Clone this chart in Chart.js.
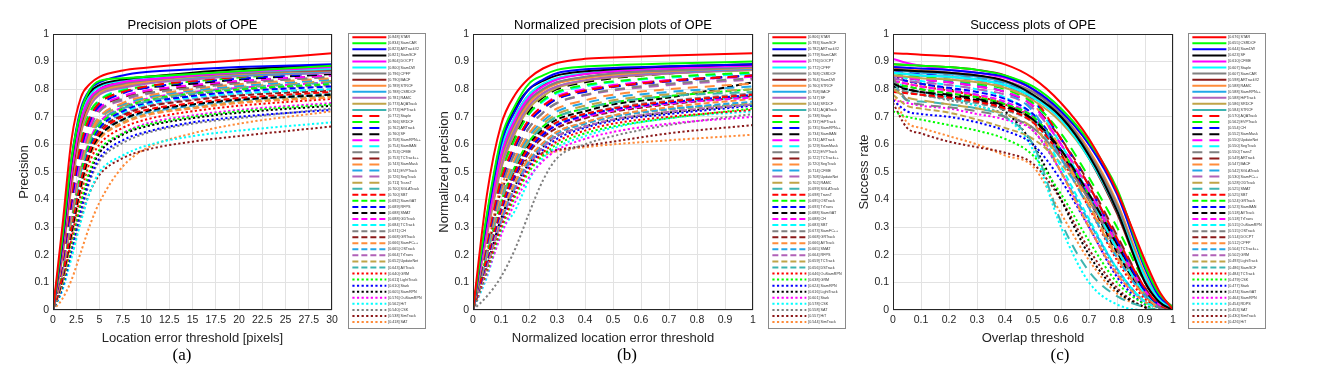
<!DOCTYPE html>
<html>
<head>
<meta charset="utf-8">
<script src="https://cdn.jsdelivr.net/npm/chart.js@4.4.1/dist/chart.umd.min.js"></script>
<style>
  body { margin:0; background:#fff; }
  #wrap { position:relative; width:1335px; height:381px; overflow:hidden; background:#fff; }
  canvas { position:absolute; }
  .lgbox { position:absolute; top:33px; width:76px; height:294px; border:1px solid #8a8a8a; background:#fff; }
  .cap { position:absolute; top:345px; width:60px; text-align:center; font:17px 'Liberation Serif', serif; line-height:20px; color:#000; }
</style>
</head>
<body>
<div id="wrap">
  <canvas id="plotA" width="345" height="381" style="left:0;top:0"></canvas>
  <canvas id="plotB" width="345" height="381" style="left:420px;top:0"></canvas>
  <canvas id="plotC" width="345" height="381" style="left:840px;top:0"></canvas>
  <div class="lgbox" style="left:348px"></div>
  <div class="lgbox" style="left:768px"></div>
  <div class="lgbox" style="left:1188px"></div>
  <canvas id="legA" width="200" height="300" style="left:350.3px;top:32.5px"></canvas>
  <canvas id="legB" width="200" height="300" style="left:770px;top:32.5px"></canvas>
  <canvas id="legC" width="200" height="300" style="left:1190px;top:32.5px"></canvas>
  <div class="cap" style="left:152px">(a)</div>
  <div class="cap" style="left:597px">(b)</div>
  <div class="cap" style="left:1030px">(c)</div>
</div>
<script>
/* ---- thresholds (x values) ---- */
const xA = [0, 1, 2, 3, 4, 5, 7.5, 10, 15, 20, 30];
const xB = [0, .05, .1, .15, .2, .25, .3, .4, .5, .7, 1];
const xC = [0, .05, .1, .2, .3, .4, .5, .6, .7, .8, .9, .95, 1];

/* ---- legend entries ---- */
const namesA = ['STAR','SiamCAR','ARTrackV2','SiamSCF','DOCPT','SiamDW','CPFP','BACF','STRCF','CSRDCF','RAMC','AQATrack','HiPTrack',
  'Staple','SRDCF','ARTrack','SF','SiamRPN++','SiamBAN','CFME','TCTrack++','SiamMask','EVPTrack','SegTrack','TransT','SGLATrack',
  'SBT','SiamGAT','RFPS','SMAT','GDTrack','TCTrack','CH','GRTrack','SiamFC++','OSTrack','TrTrans','UpdateNet','AVTrack',
  'GRM','LightTrack','Stark','SiamRPN','OuSiamRPN','HiT','CSK','SimTrack','SAT'];
const scoresA = [0.848,0.834,0.823,0.821,0.804,0.800,0.796,0.790,0.789,0.788,0.781,0.773,0.773,
  0.772,0.766,0.762,0.760,0.758,0.754,0.753,0.753,0.743,0.741,0.726,0.711,0.700,
  0.700,0.692,0.689,0.688,0.688,0.684,0.671,0.668,0.666,0.665,0.664,0.652,0.643,
  0.640,0.611,0.610,0.605,0.576,0.562,0.540,0.538,0.418];

const namesB = ['STAR','SiamSCF','ARTrackV2','SiamCAR','DOCPT','CPFP','CSRDCF','SiamDW','STRCF','BACF','SF','SRDCF','AQATrack',
  'Staple','HiPTrack','SiamRPN++','SiamBAN','ARTrack','SiamMask','EVPTrack','TCTrack++','SegTrack','CFME','UpdateNet','RAMC','SGLATrack',
  'TransT','OSTrack','TrTrans','SiamGAT','CH','SBT','SiamFC++','GRTrack','AVTrack','SMAT','RFPS','TCTrack','DSTrack',
  'OuSiamRPN','GRM','SiamRPN','LightTrack','Stark','CSK','SAT','HiT','SimTrack'];
const scoresB = [0.806,0.793,0.782,0.779,0.776,0.772,0.768,0.764,0.760,0.758,0.747,0.744,0.741,
  0.738,0.737,0.735,0.734,0.731,0.729,0.722,0.722,0.720,0.714,0.708,0.702,0.699,
  0.698,0.695,0.693,0.688,0.688,0.683,0.673,0.668,0.666,0.665,0.664,0.659,0.656,
  0.646,0.638,0.624,0.616,0.601,0.578,0.558,0.557,0.544];

const namesC = ['STAR','CSRDCF','SiamDW','SF','CFME','Staple','SiamCAR','ARTrackV2','RAMC','SiamRPN++','HiPTrack','SRDCF','STRCF',
  'AQATrack','EVPTrack','CH','SiamMask','UpdateNet','SegTrack','TransT','ARTrack','BACF','SGLATrack','SiamFC++','ODTrack','SMAT',
  'SBT','GRTrack','SiamBAN','AVTrack','TrTrans','OuSiamRPN','OSTrack','DOCPT','CPFP','TCTrack++','GRM','LightTrack','SiamSCF',
  'TCTrack','CSK','Stark','SiamGAT','SiamRPN','RDPS','SAT','SimTrack','HiT'];
const scoresC = [0.676,0.655,0.644,0.623,0.610,0.607,0.607,0.598,0.588,0.588,0.588,0.586,0.584,
  0.570,0.562,0.554,0.552,0.550,0.550,0.550,0.549,0.547,0.542,0.530,0.528,0.525,
  0.525,0.524,0.523,0.518,0.518,0.515,0.515,0.514,0.512,0.504,0.502,0.493,0.486,
  0.484,0.479,0.477,0.474,0.464,0.454,0.453,0.430,0.426];

/* ---- curves, precision plot (a) ---- */
const curvesA = [
  [0,.3,.62,.77,.82,.845,.868,.878,.893,.905,.93],
  [0,.26,.55,.72,.8,.83,.84,.845,.855,.865,.885],
  [0,.25,.55,.73,.8,.825,.85,.862,.872,.88,.89],
  [0,.24,.54,.72,.79,.815,.835,.845,.86,.872,.888],
  [0,.22,.5,.69,.77,.8,.825,.835,.85,.862,.88],
  [0,.23,.52,.7,.78,.81,.83,.84,.852,.862,.875],
  [0,.22,.5,.68,.76,.795,.82,.832,.848,.858,.872],
  [0,.21,.48,.67,.76,.8,.825,.835,.85,.86,.87],
  [0,.2,.47,.66,.75,.79,.815,.828,.845,.855,.868],
  [0,.22,.5,.68,.76,.8,.82,.83,.842,.852,.865],
  [0,.2,.46,.65,.74,.78,.805,.82,.835,.848,.86],
  [0,.19,.45,.64,.74,.785,.81,.825,.84,.85,.862],
  [0,.21,.48,.66,.75,.79,.81,.822,.838,.848,.86],
  [0,.18,.42,.6,.7,.75,.79,.81,.83,.845,.87],
  [0,.19,.44,.62,.72,.76,.795,.81,.828,.842,.865],
  [0,.17,.4,.58,.69,.74,.785,.805,.825,.838,.86],
  [0,.17,.4,.6,.7,.75,.79,.805,.82,.835,.855],
  [0,.16,.38,.56,.67,.73,.775,.795,.815,.83,.85],
  [0,.18,.42,.6,.71,.76,.8,.82,.838,.85,.862],
  [0,.15,.36,.54,.66,.72,.765,.785,.805,.822,.845],
  [0,.16,.38,.57,.68,.73,.77,.79,.81,.828,.85],
  [0,.14,.35,.53,.64,.7,.75,.775,.8,.818,.84],
  [0,.15,.36,.54,.65,.7,.745,.77,.795,.812,.835],
  [0,.16,.38,.56,.67,.72,.76,.782,.805,.822,.845],
  [0,.14,.34,.52,.63,.69,.74,.765,.79,.808,.83],
  [0,.13,.33,.5,.62,.68,.73,.755,.785,.805,.825],
  [0,.12,.3,.47,.58,.64,.7,.725,.75,.768,.79],
  [0,.13,.32,.5,.61,.67,.73,.76,.785,.8,.82],
  [0,.12,.3,.48,.6,.66,.72,.75,.775,.792,.81],
  [0,.11,.28,.45,.57,.63,.69,.72,.745,.762,.78],
  [0,.13,.33,.51,.62,.68,.735,.765,.79,.805,.825],
  [0,.12,.31,.49,.6,.66,.715,.745,.77,.785,.8],
  [0,.13,.32,.5,.61,.67,.725,.755,.78,.797,.815],
  [0,.12,.3,.47,.59,.65,.705,.735,.76,.777,.795],
  [0,.1,.27,.44,.56,.62,.675,.705,.73,.75,.77],
  [0,.11,.29,.46,.58,.64,.69,.715,.74,.76,.78],
  [0,.12,.31,.48,.6,.66,.71,.74,.765,.782,.8],
  [0,.1,.27,.44,.56,.62,.68,.71,.735,.755,.775],
  [0,.11,.28,.45,.57,.63,.69,.72,.745,.765,.785],
  [0,.1,.26,.42,.54,.6,.66,.69,.72,.74,.765],
  [0,.09,.24,.39,.51,.58,.64,.67,.7,.72,.745],
  [0,.08,.22,.36,.48,.55,.615,.645,.68,.7,.725],
  [0,.09,.23,.38,.5,.57,.635,.665,.695,.715,.74],
  [0,.09,.23,.38,.5,.57,.64,.675,.705,.725,.75],
  [0,.07,.19,.32,.43,.5,.56,.595,.63,.65,.68],
  [0,.08,.21,.35,.47,.54,.605,.64,.675,.695,.73],
  [0,.08,.2,.33,.43,.49,.55,.58,.61,.63,.665],
  [0,.04,.11,.21,.31,.39,.52,.585,.64,.675,.72]
];

/* ---- curves, normalized precision plot (b) ---- */
const curvesB = [
  [0,.42,.67,.78,.84,.875,.895,.91,.915,.922,.93],
  [0,.35,.62,.74,.82,.85,.87,.882,.887,.893,.9],
  [0,.33,.6,.72,.8,.835,.858,.872,.877,.883,.89],
  [0,.34,.61,.73,.8,.83,.85,.865,.872,.882,.89],
  [0,.3,.56,.69,.77,.81,.835,.855,.865,.875,.885],
  [0,.32,.58,.7,.78,.82,.84,.858,.866,.876,.885],
  [0,.3,.55,.68,.76,.8,.825,.845,.857,.868,.88],
  [0,.31,.57,.7,.78,.815,.838,.855,.863,.873,.885],
  [0,.29,.54,.67,.75,.795,.82,.84,.852,.865,.878],
  [0,.3,.55,.68,.76,.8,.825,.843,.853,.864,.875],
  [0,.28,.52,.65,.74,.785,.81,.832,.845,.858,.872],
  [0,.27,.51,.64,.73,.775,.805,.83,.843,.857,.87],
  [0,.28,.52,.66,.74,.785,.81,.832,.845,.858,.87],
  [0,.25,.47,.6,.69,.74,.77,.795,.81,.83,.85],
  [0,.26,.49,.62,.71,.76,.79,.815,.828,.845,.86],
  [0,.24,.46,.59,.68,.73,.765,.79,.808,.828,.85],
  [0,.26,.5,.63,.72,.77,.8,.825,.84,.857,.875],
  [0,.25,.47,.6,.69,.74,.775,.8,.815,.832,.845],
  [0,.27,.5,.62,.71,.755,.785,.81,.825,.842,.855],
  [0,.23,.44,.57,.66,.715,.75,.78,.798,.82,.84],
  [0,.24,.46,.59,.68,.73,.765,.795,.812,.832,.85],
  [0,.22,.42,.55,.64,.695,.73,.76,.78,.8,.82],
  [0,.21,.41,.54,.63,.685,.72,.75,.77,.79,.81],
  [0,.23,.44,.57,.66,.715,.75,.778,.795,.815,.835],
  [0,.2,.4,.53,.62,.675,.71,.74,.76,.782,.8],
  [0,.2,.39,.52,.61,.665,.7,.73,.752,.775,.79],
  [0,.19,.37,.5,.59,.645,.68,.71,.73,.755,.78],
  [0,.2,.39,.52,.61,.665,.7,.73,.752,.775,.8],
  [0,.18,.36,.49,.58,.635,.67,.705,.727,.752,.78],
  [0,.19,.38,.51,.6,.655,.69,.72,.745,.77,.825],
  [0,.18,.36,.49,.58,.635,.67,.7,.722,.748,.77],
  [0,.2,.38,.5,.59,.64,.675,.705,.725,.75,.775],
  [0,.19,.37,.5,.59,.645,.68,.71,.733,.758,.785],
  [0,.18,.36,.48,.57,.625,.66,.695,.718,.745,.775],
  [0,.17,.34,.46,.55,.605,.645,.68,.705,.735,.765],
  [0,.17,.33,.45,.54,.6,.64,.675,.7,.728,.755],
  [0,.16,.32,.44,.53,.59,.63,.665,.69,.718,.745],
  [0,.16,.32,.45,.54,.6,.64,.675,.7,.725,.75],
  [0,.17,.34,.46,.55,.605,.645,.68,.705,.73,.745],
  [0,.15,.3,.42,.51,.57,.61,.65,.675,.7,.725],
  [0,.14,.29,.41,.5,.56,.6,.64,.665,.695,.73],
  [0,.15,.31,.43,.52,.58,.62,.66,.685,.71,.74],
  [0,.16,.33,.45,.53,.59,.63,.665,.69,.715,.745],
  [0,.13,.27,.39,.48,.54,.58,.62,.645,.675,.7],
  [0,.12,.28,.36,.47,.55,.59,.63,.66,.695,.72],
  [0,.05,.12,.22,.35,.47,.55,.6,.63,.67,.71],
  [0,.2,.43,.5,.55,.57,.58,.595,.61,.64,.67],
  [0,.22,.45,.5,.54,.56,.575,.59,.6,.615,.635]
];

/* ---- curves, success plot (c) ---- */
const curvesC = [
  [.93,.928,.925,.92,.91,.89,.84,.75,.62,.43,.18,.07,0],
  [.89,.888,.885,.88,.87,.85,.81,.73,.61,.44,.16,.06,.01],
  [.88,.878,.875,.87,.86,.845,.8,.72,.6,.42,.15,.05,.01],
  [.87,.868,.865,.86,.85,.83,.78,.7,.56,.36,.1,.03,0],
  [.91,.895,.885,.87,.86,.84,.8,.72,.6,.43,.17,.06,.01],
  [.86,.855,.85,.845,.835,.815,.77,.69,.55,.36,.12,.04,0],
  [.87,.868,.865,.86,.85,.83,.79,.71,.57,.38,.12,.04,0],
  [.89,.888,.885,.88,.87,.85,.8,.7,.55,.35,.1,.03,0],
  [.88,.875,.87,.86,.85,.83,.79,.71,.58,.39,.13,.04,0],
  [.87,.865,.86,.855,.845,.825,.78,.7,.57,.38,.12,.04,0],
  [.86,.855,.85,.845,.835,.815,.77,.69,.56,.37,.11,.03,0],
  [.85,.845,.84,.835,.825,.805,.76,.68,.55,.36,.11,.03,0],
  [.86,.855,.85,.845,.835,.815,.77,.7,.57,.37,.11,.03,0],
  [.88,.87,.865,.855,.845,.825,.77,.62,.45,.26,.08,.02,0],
  [.86,.85,.845,.835,.82,.8,.75,.64,.48,.3,.1,.03,0],
  [.87,.86,.855,.845,.835,.815,.76,.62,.45,.25,.07,.02,0],
  [.82,.8,.79,.78,.765,.74,.69,.58,.42,.24,.07,.02,0],
  [.85,.84,.835,.825,.81,.79,.74,.6,.43,.24,.07,.02,0],
  [.88,.87,.865,.855,.84,.82,.76,.6,.42,.22,.06,.02,0],
  [.84,.76,.745,.735,.72,.7,.66,.55,.4,.22,.06,.01,0],
  [.85,.84,.835,.825,.81,.79,.74,.62,.46,.27,.08,.02,0],
  [.87,.86,.855,.845,.83,.81,.75,.58,.38,.19,.05,.01,0],
  [.86,.85,.845,.83,.815,.79,.72,.55,.37,.19,.05,.01,0],
  [.84,.83,.825,.815,.8,.78,.73,.6,.44,.26,.08,.02,0],
  [.8,.77,.76,.745,.73,.71,.66,.55,.4,.23,.06,.01,0],
  [.83,.76,.755,.745,.73,.7,.6,.32,.14,.05,.01,0,0],
  [.79,.785,.78,.77,.755,.73,.68,.56,.4,.22,.06,.01,0],
  [.82,.81,.8,.785,.77,.745,.7,.58,.42,.25,.07,.02,0],
  [.84,.83,.82,.805,.79,.765,.71,.58,.41,.22,.06,.01,0],
  [.81,.8,.79,.775,.76,.735,.69,.57,.4,.21,.05,.01,0],
  [.83,.82,.81,.795,.78,.755,.7,.57,.4,.22,.06,.01,0],
  [.85,.84,.83,.815,.8,.77,.7,.52,.33,.15,.03,.01,0],
  [.8,.79,.78,.765,.75,.725,.68,.57,.42,.25,.07,.02,0],
  [.82,.81,.8,.785,.77,.745,.7,.58,.42,.23,.06,.01,0],
  [.83,.82,.81,.795,.775,.745,.68,.5,.3,.13,.03,.01,0],
  [.84,.83,.82,.8,.78,.75,.68,.5,.32,.15,.03,.01,0],
  [.81,.8,.79,.775,.76,.735,.69,.57,.41,.24,.07,.02,0],
  [.78,.74,.73,.715,.69,.66,.62,.53,.38,.2,.05,.01,0],
  [.8,.79,.78,.765,.75,.725,.68,.56,.4,.22,.06,.01,0],
  [.83,.82,.81,.795,.775,.745,.69,.55,.37,.18,.04,.01,0],
  [.72,.7,.69,.67,.65,.62,.56,.42,.25,.1,.02,0,0],
  [.76,.72,.71,.7,.68,.65,.6,.47,.3,.12,.02,0,0],
  [.85,.83,.82,.8,.77,.72,.6,.4,.2,.07,.01,0,0],
  [.76,.75,.74,.73,.71,.69,.65,.5,.3,.13,.03,.01,0],
  [.84,.8,.79,.77,.74,.7,.58,.3,.1,.02,0,0,0],
  [.8,.79,.78,.76,.74,.71,.65,.5,.32,.14,.03,.01,0],
  [.75,.66,.64,.61,.59,.57,.53,.4,.22,.08,.01,0,0],
  [.78,.68,.66,.63,.6,.56,.52,.35,.18,.06,.01,0,0]
];

/* ---- line styles: 13 colours, 4 dash groups ---- */
const lineColors = ['#ff0000','#00ff00','#0000ff','#000000','#ff00ff','#00ffff','#808080',
  '#8c1a1a','#ff8c3a','#22a7e8','#b062b8','#c0a448','#3cb4b0'];
const lineDashes = [[], [10, 7], [6, 3], [2.2, 2.4]];

function colorOf(i) { return lineColors[i < 39 ? i % 13 : i - 39]; }
function dashOf(i) { return lineDashes[Math.min(3, Math.floor(i / 13))]; }

Chart.defaults.font.family = "'Liberation Sans', Arial, sans-serif";
Chart.defaults.color = '#262626';
Chart.defaults.animation = false;

// box around the plotting area, like the matlab axes frame
const frame = {
  id: 'frame',
  afterDraw(chart) {
    const a = chart.chartArea, c = chart.ctx;
    c.save();
    c.strokeStyle = '#262626';
    c.lineWidth = 1;
    c.strokeRect(Math.round(a.left) + 0.5, Math.round(a.top) + 0.5,
      Math.round(a.right - a.left) - 1, Math.round(a.bottom - a.top) - 1);
    c.restore();
  }
};

// matlab style tick text: 0, 0.1 ... 1 (no trailing zeros)
const tickText = (v) => String(Number(v.toFixed(3)));

function makeSets(xs, curves) {
  return curves.map((ys, i) => ({
    data: ys.map((y, j) => ({ x: xs[j], y: y })),
    borderColor: colorOf(i),
    borderDash: dashOf(i),
    borderWidth: 2,
    pointRadius: 0,
    fill: false,
    cubicInterpolationMode: 'monotone'
  }));
}

function plot(id, titleText, xText, yText, xMax, xStep, sets, padRight) {
  return new Chart(document.getElementById(id).getContext('2d'), {
    type: 'line',
    data: { datasets: sets },
    plugins: [frame],
    options: {
      responsive: false,
      events: [],
      layout: { padding: { left: 0, right: padRight, top: 0, bottom: 35 } },
      plugins: {
        legend: { display: false },
        tooltip: { enabled: false },
        title: {
          display: true, text: titleText, fullSize: false,
          color: '#000', font: { size: 13, weight: 'normal' },
          padding: { top: 17.7, bottom: 0.7 }
        }
      },
      scales: {
        x: {
          type: 'linear', min: 0, max: xMax,
          ticks: { stepSize: xStep, autoSkip: false, maxRotation: 0, padding: 4, font: { size: 10.5 }, callback: tickText },
          grid: { color: '#e2e2e2', drawTicks: false },
          border: { display: false },
          title: { display: true, text: xText, font: { size: 13 }, padding: { top: 0, bottom: 0 } },
          afterFit: (s) => { s.height = 36; }
        },
        y: {
          type: 'linear', min: 0, max: 1,
          ticks: { stepSize: 0.1, padding: 4, font: { size: 10.5 }, callback: tickText },
          grid: { color: '#e2e2e2', drawTicks: false },
          border: { display: false },
          title: { display: true, text: yText, font: { size: 13 }, padding: { top: 17, bottom: 0 } },
          afterFit: (s) => { s.width = 53; }
        }
      }
    }
  });
}

function legendChart(id, names, scores) {
  return new Chart(document.getElementById(id).getContext('2d'), {
    type: 'line',
    data: { datasets: [] },
    options: {
      responsive: false,
      events: [],
      layout: { padding: 0 },
      scales: { x: { display: false }, y: { display: false } },
      plugins: {
        tooltip: { enabled: false },
        legend: {
          display: true, position: 'left', align: 'start',
          labels: {
            usePointStyle: true, pointStyle: 'line', pointStyleWidth: 34,
            padding: 2.36, color: '#333', font: { size: 3.7 },
            generateLabels: () => names.map((n, i) => ({
              text: '[' + scores[i].toFixed(3) + '] ' + n,
              strokeStyle: colorOf(i),
              fillStyle: colorOf(i),
              lineDash: dashOf(i),
              lineWidth: 2,
              pointStyle: 'line',
              fontColor: '#333',
              hidden: false
            }))
          }
        }
      }
    }
  });
}

plot('plotA', 'Precision plots of OPE', 'Location error threshold [pixels]', 'Precision', 30, 2.5, makeSets(xA, curvesA), 13);
plot('plotB', 'Normalized precision plots of OPE', 'Normalized location error threshold', 'Normalized precision', 1, 0.1, makeSets(xB, curvesB), 12);
plot('plotC', 'Success plots of OPE', 'Overlap threshold', 'Success rate', 1, 0.1, makeSets(xC, curvesC), 12);

legendChart('legA', namesA, scoresA);
legendChart('legB', namesB, scoresB);
legendChart('legC', namesC, scoresC);
</script>
</body>
</html>
